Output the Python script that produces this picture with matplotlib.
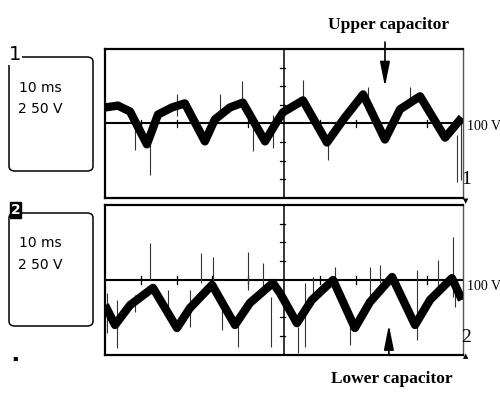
import matplotlib
matplotlib.use("Agg")
import matplotlib.pyplot as plt
from matplotlib.patches import FancyBboxPatch

# ---- data (time in ms, voltage in V; 10 ms/div, 50 V/div, reference 100 V) ----
upper_t = [0, 3.6, 7.0, 11.7, 14.8, 18.7, 22.3, 27.9, 30.7, 34.9, 38.5, 44.7,
           47.5, 49.7, 55.3, 62.0, 67.0, 72.1, 78.2, 82.4, 88.0, 95.0, 99.7]
upper_v = [143, 148, 132, 44, 124, 143, 154, 52, 111, 143, 156, 52,
           97, 130, 162, 49, 116, 178, 57, 138, 173, 62, 116]

lower_t = [0, 2.8, 7.0, 13.4, 20.1, 23.7, 29.9, 36.3, 40.5, 46.9, 48.9, 53.6,
           57.8, 63.7, 69.8, 74.0, 80.2, 86.6, 90.8, 96.9, 99.7]
lower_v = [33, -20, 33, 79, -28, 25, 87, -20, 39, 92, 65, -15,
           47, 100, -28, 41, 108, -20, 47, 105, 47]

upper_spike_t = [12.6, 38.3, 20.1, 41.3, 8.4, 32.1, 46.9, 55.3, 62.3, 73.5, 85.2, 98.3, 99.4]
upper_spike_hi = [44, 213, 178, 97, 111, 178, 124, 218, 52, 197, 199, 70, 111]
upper_spike_lo = [-37, 143, 119, 25, 30, 132, 35, 151, 3, 159, 156, -56, -51]

lower_spike_t = [12.6, 26.8, 30.2, 39.9, 44.1, 46.4, 3.4, 0.6, 37.2, 32.7, 23.7, 17.6,
                 97.2, 93.0, 87.2, 74.0, 76.8, 64.2, 68.4, 55.9, 53.9, 58.1, 97.8, 8.4]
lower_spike_hi = [199, 172, 161, 175, 145, 55, 47, 65, 12, 39, 73, 73,
                  215, 153, 127, 135, 140, 135, 20, 92, -25, 108, 100, 60]
lower_spike_lo = [100, 92, 92, 73, 81, -79, -81, -41, -79, -33, -25, 7,
                  55, 65, -60, 47, 92, 92, -73, -79, -95, 47, 28, 15]

time_divs = [0, 10, 20, 30, 40, 50, 60, 70, 80, 90, 100]
volt_divs = [-100, -50, 0, 50, 100, 150, 200, 250, 300]
ref_level = 100
t_center = 50
time_label = "10 ms"
volt_label = "2 50 V"
ref_label = "100 V"

fig = plt.figure(figsize=(5, 3.94), dpi=100)
fig.patch.set_facecolor("white")

ax1 = fig.add_axes([0.21, 0.4975, 0.716, 0.3782])
ax2 = fig.add_axes([0.21, 0.099, 0.716, 0.3807])


def scope_panel(ax, t, v, st, shi, slo):
    ax.set_xlim(time_divs[0], time_divs[-1])
    ax.set_ylim(volt_divs[0], volt_divs[-1])
    ax.set_xticks([])
    ax.set_yticks([])
    for s in ["top", "bottom", "left"]:
        ax.spines[s].set_linewidth(1.6)
        ax.spines[s].set_color("black")
    ax.spines["right"].set_linewidth(1.0)
    ax.spines["right"].set_color("#555555")
    ax.axhline(ref_level, color="black", lw=1.5, zorder=1)
    ax.axvline(t_center, color="black", lw=1.1, zorder=1)
    for vv in volt_divs[1:-1]:
        if vv != ref_level:
            ax.plot([t_center - 1.2, t_center + 0.3], [vv, vv], color="black", lw=0.9, zorder=1)
    for tt in time_divs[1:-1]:
        if tt != t_center:
            ax.plot([tt, tt], [ref_level - 10, ref_level + 10], color="black", lw=0.9, zorder=1)
    ax.vlines(st, slo, shi, color="#333333", lw=0.8, zorder=2)
    ax.plot(t, v, color="black", lw=6, solid_joinstyle="round",
            solid_capstyle="butt", zorder=4)


scope_panel(ax1, upper_t, upper_v, upper_spike_t, upper_spike_hi, upper_spike_lo)
scope_panel(ax2, lower_t, lower_v, lower_spike_t, lower_spike_hi, lower_spike_lo)


def fx(px):
    return px / 500.0


def fy(py):
    return 1 - py / 394.0


# left info boxes
narrow = ["DejaVu Sans"]
for (top, bot, lab, txt_y1, txt_y2, boxed) in [(57, 171, "1", 88, 109, False),
                                               (213, 326, "2", 243, 265, True)]:
    box = FancyBboxPatch((fx(9), fy(bot)), fx(93) - fx(9), fy(top) - fy(bot),
                         boxstyle="round,pad=0,rounding_size=0.012",
                         transform=fig.transFigure, fill=False,
                         edgecolor="black", lw=1.1)
    fig.patches.append(box)
    fig.text(fx(19), fy(txt_y1), time_label, fontsize=10, family=narrow,
             va="center", ha="left")
    fig.text(fx(18), fy(txt_y2), volt_label, fontsize=10, family=narrow,
             va="center", ha="left")
    if boxed:
        fig.text(fx(15.5), fy(top - 3), lab, fontsize=10, family=narrow,
                 weight="bold", color="white", va="center", ha="center",
                 bbox=dict(boxstyle="square,pad=0.05", facecolor="black",
                           edgecolor="black"))
    else:
        fig.text(fx(15), fy(top - 2), lab, fontsize=14, family=narrow,
                 va="center", ha="center", color="black",
                 bbox=dict(boxstyle="square,pad=0.02", facecolor="white",
                           edgecolor="none"))

fig.text(fx(15), fy(358), "\u25aa", fontsize=6, ha="center", va="center")

serif = ["Liberation Serif", "DejaVu Serif"]
# reference labels
fig.text(fx(467), fy(127), ref_label, fontsize=10, family=serif, va="center", ha="left")
fig.text(fx(467), fy(286), ref_label, fontsize=10, family=serif, va="center", ha="left")
# channel markers at right edge
fig.text(fx(466), fy(179), "1", fontsize=14, family=serif, va="center", ha="center")
fig.text(fx(466), fy(338), "2", fontsize=14, family=serif, va="center", ha="center")
fig.text(fx(466), fy(201), "\u25bc", fontsize=5, va="center", ha="center")
fig.text(fx(466), fy(356), "\u25b2", fontsize=5, va="center", ha="center")

# annotations
fig.text(fx(389), fy(25), "Upper capacitor", fontsize=12.5, family=serif,
         weight="bold", va="center", ha="center")
fig.text(fx(392), fy(379), "Lower capacitor", fontsize=12.5, family=serif,
         weight="bold", va="center", ha="center")

ax1.annotate("", xy=(78.2, 199), xycoords="data",
             xytext=(fx(385), fy(42)), textcoords="figure fraction",
             arrowprops=dict(arrowstyle="-|>,head_length=1.5,head_width=0.3",
                             color="black", lw=1.2, shrinkA=0, shrinkB=0),
             annotation_clip=False)
ax2.annotate("", xy=(79.3, -20), xycoords="data",
             xytext=(79.3, -100), textcoords="data",
             arrowprops=dict(arrowstyle="-|>,head_length=1.5,head_width=0.3",
                             color="black", lw=1.2, shrinkA=0, shrinkB=0),
             annotation_clip=False)

fig.savefig("out.png", dpi=100, facecolor="white")
